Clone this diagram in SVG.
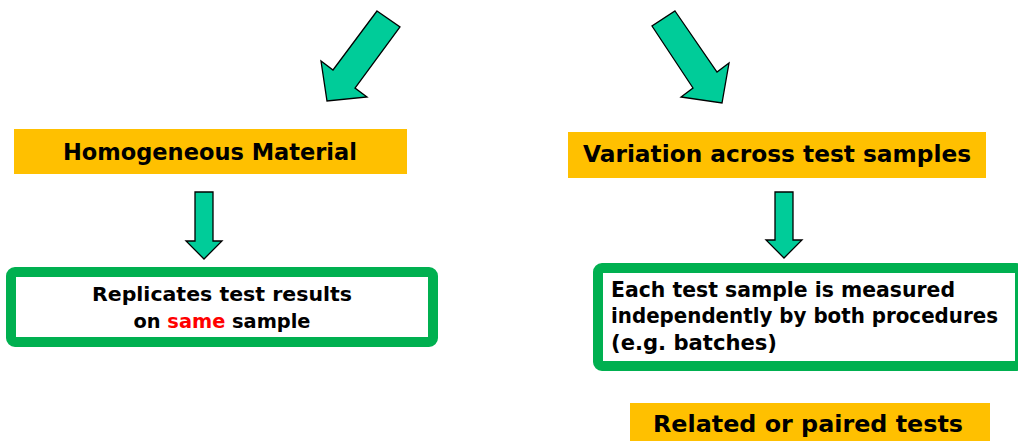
<svg xmlns="http://www.w3.org/2000/svg" width="1018" height="441" viewBox="0 0 1018 441">
<style>
.arrow{fill:#00CC99;stroke:#000;stroke-width:1.3;stroke-linejoin:miter}
.hdr{fill:#FFC000}
.box{fill:#fff;stroke:#00B050;stroke-width:10}
.t{font-family:"DejaVu Sans","Liberation Sans",sans-serif;font-weight:bold;fill:#000}
.red{fill:#FF0000}
</style>
<rect width="1018" height="441" fill="#fff"/>
<g id="connectors">
<polygon class="arrow" points="377,11 400,27 355,88 367,97 327,101 321,61 333,70"/>
<polygon class="arrow" points="675,11 717,72 729,63 722,103 681,97 693,88 652,26"/>
<polygon class="arrow" points="195,192 213,192 213,241 222,241 204,259 186,241 195,241"/>
<polygon class="arrow" points="775,192 793,192 793,240 802,240 784,258 766,240 775,240"/>
</g>
<g id="homogeneous">
<rect class="hdr" x="14" y="129" width="393" height="45"/>
<text class="t" x="210" y="160" font-size="23" text-anchor="middle" textLength="294" lengthAdjust="spacingAndGlyphs">Homogeneous Material</text>
</g>
<g id="variation">
<rect class="hdr" x="568" y="132" width="418" height="46"/>
<text class="t" x="777" y="162" font-size="23" text-anchor="middle" textLength="388" lengthAdjust="spacingAndGlyphs">Variation across test samples</text>
</g>
<g id="replicates">
<rect class="box" x="11" y="272" width="422" height="70" rx="4"/>
<text class="t" x="222" y="301" font-size="19" text-anchor="middle" textLength="260" lengthAdjust="spacingAndGlyphs">Replicates test results</text>
<text class="t" x="222" y="328" font-size="19" text-anchor="middle" textLength="177" lengthAdjust="spacingAndGlyphs">on <tspan class="red">same</tspan> sample</text>
</g>
<g id="each">
<rect class="box" x="598" y="268" width="422" height="98" rx="4"/>
<text class="t" x="611" y="297" font-size="20.5" textLength="344" lengthAdjust="spacingAndGlyphs">Each test sample is measured</text>
<text class="t" x="611" y="323" font-size="20.5" textLength="387" lengthAdjust="spacingAndGlyphs">independently by both procedures</text>
<text class="t" x="611" y="350" font-size="20.5" textLength="166" lengthAdjust="spacingAndGlyphs">(e.g. batches)</text>
</g>
<g id="related">
<rect class="hdr" x="630" y="403" width="360" height="40"/>
<text class="t" x="808" y="432" font-size="23" text-anchor="middle" textLength="310" lengthAdjust="spacingAndGlyphs">Related or paired tests</text>
</g>
</svg>
